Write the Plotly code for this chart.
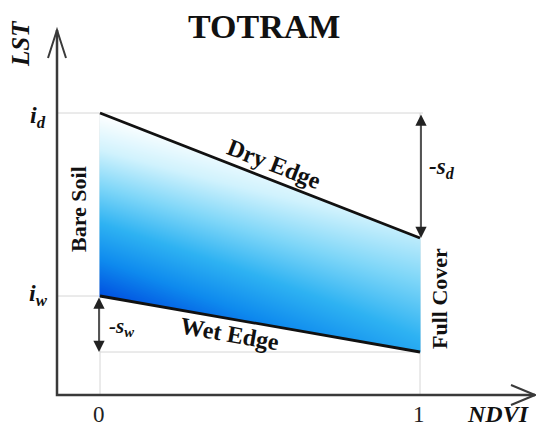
import math
import numpy as np
import plotly.graph_objects as go

# ---------------- data ----------------
ndvi = [0.0, 1.0]                 # NDVI at bare soil / full cover
dry_edge = [2.82, 1.57]           # LST on the dry edge
wet_edge = [0.99, 0.43]           # LST on the wet edge
x_ticks = [0, 1]
x_tick_labels = ["0", "1"]
edge_labels = ["Dry Edge", "Wet Edge"]

# ---------------- layout constants ----------------
W, H = 536, 430
PX_X = 320.0   # pixels per NDVI unit
PX_Y = 100.0   # pixels per LST unit
X0_PX, Y0_PX = 100.0, 395.0      # pixel position of (0, 0)
X_RANGE = [-X0_PX / PX_X, (W - X0_PX) / PX_X]
Y_RANGE = [(Y0_PX - H) / PX_Y, Y0_PX / PX_Y]
AX_X0 = (57 - X0_PX) / PX_X       # where the y axis stands
AX_XEND = (535 - X0_PX) / PX_X
AX_YEND = (Y0_PX - 30) / PX_Y

SERIF = "Liberation Serif"
AXIS_COL = "#3a3a3a"
GUIDE_COL = "#d6d6d6"


def dx(p):
    return p / PX_X


def dy(p):
    return p / PX_Y


def pap(xp, yp):
    return xp / W, 1 - yp / H


fig = go.Figure()

# ---------------- gradient fill between edges ----------------
xs = np.linspace(ndvi[0], ndvi[1], 321)
y_lo, y_hi = min(wet_edge), max(dry_edge)
ys = np.linspace(y_lo, y_hi, int(round((y_hi - y_lo) * PX_Y)) + 1)
X, Y = np.meshgrid(xs, ys)
dry = np.interp(X, ndvi, dry_edge)
wet = np.interp(X, ndvi, wet_edge)
u = (X - ndvi[0]) / (ndvi[1] - ndvi[0])
v = (dry - Y) / (dry - wet)
z = v * (1 - 0.6 * u) + 0.25 * u
z = np.where((Y <= dry) & (Y >= wet), z, np.nan)

fig.add_trace(go.Heatmap(
    x=xs, y=ys, z=z, zmin=0, zmax=1, showscale=False, hoverinfo="skip",
    colorscale=[[0.0, "#ffffff"], [0.2, "#d0f2fd"], [0.4, "#7ed6f8"],
                [0.6, "#2eb2f2"], [0.8, "#0e8aee"], [1.0, "#004fe0"]],
))

# ---------------- edges ----------------
for vals in (dry_edge, wet_edge):
    fig.add_trace(go.Scatter(x=ndvi, y=vals, mode="lines",
                             line=dict(color="#111111", width=2.8),
                             hoverinfo="skip", showlegend=False))

shapes = []
# guide lines
guides = [
    (AX_X0, dry_edge[0], ndvi[1] + dx(3), dry_edge[0]),
    (AX_X0, wet_edge[0], ndvi[0], wet_edge[0]),
    (ndvi[0], wet_edge[1], ndvi[1], wet_edge[1]),
    (ndvi[0], 0, ndvi[0], dry_edge[0]),
    (ndvi[1], 0, ndvi[1], dry_edge[0]),
]
for x0, y0, x1, y1 in guides:
    shapes.append(dict(type="line", xref="x", yref="y", x0=x0, y0=y0, x1=x1, y1=y1,
                       line=dict(color=GUIDE_COL, width=1), layer="below"))

# axes
shapes.append(dict(type="path", xref="x", yref="y",
                   path=f"M{AX_X0},{AX_YEND} L{AX_X0},0 L{AX_XEND},0",
                   line=dict(color=AXIS_COL, width=2.5)))
# open chevron arrow heads
shapes.append(dict(type="path", xref="x", yref="y",
                   path=(f"M{AX_X0 - dx(9)},{AX_YEND - dy(28)} L{AX_X0},{AX_YEND} "
                         f"L{AX_X0 + dx(9)},{AX_YEND - dy(28)}"),
                   line=dict(color=AXIS_COL, width=2)))
shapes.append(dict(type="path", xref="x", yref="y",
                   path=(f"M{AX_XEND - dx(24)},{dy(10)} L{AX_XEND},0 "
                         f"L{AX_XEND - dx(24)},{-dy(10)}"),
                   line=dict(color=AXIS_COL, width=2)))

annotations = []
# double arrows for slopes
for xa, ya0, ya1 in [(ndvi[1] + dx(1), dry_edge[0], dry_edge[1]),
                     (ndvi[0] - dx(1), wet_edge[0], wet_edge[1])]:
    annotations.append(dict(x=xa, y=ya1, ax=xa, ay=ya0, xref="x", yref="y",
                            axref="x", ayref="y", text="", showarrow=True,
                            arrowhead=2, startarrowhead=2, arrowside="end+start",
                            arrowwidth=1.5, arrowsize=1.5, startarrowsize=1.5,
                            arrowcolor="#222222", standoff=0, startstandoff=0))


def label(text, xp, yp, size, angle=0, color="#111111"):
    px_, py_ = pap(xp, yp)
    annotations.append(dict(x=px_, y=py_, xref="paper", yref="paper", text=text,
                            showarrow=False, textangle=angle, xanchor="center",
                            yanchor="middle",
                            font=dict(family=SERIF, size=size, color=color)))


def bi(s):
    return f"<b><i>{s}</i></b>"


label("<b>TOTRAM</b>", 264, 26, 34)
label(bi("LST"), 20, 44, 25, angle=-90)
label(bi("NDVI"), 498, 414, 24)
label(bi("i") + f"<sub>{bi('d')}</sub>", 38, 117, 24)
label(bi("i") + f"<sub>{bi('w')}</sub>", 38, 295, 24)
label(bi("-s") + f"<sub>{bi('d')}</sub>", 442, 168, 23)
label(bi("-s") + f"<sub>{bi('w')}</sub>", 121, 327, 21)
label("<b>Bare Soil</b>", 79, 209, 22, angle=-90)
label("<b>Full Cover</b>", 439, 299, 22, angle=-90)

dry_ang = math.degrees(math.atan((dry_edge[0] - dry_edge[1]) * PX_Y / PX_X))
wet_ang = math.degrees(math.atan((wet_edge[0] - wet_edge[1]) * PX_Y / PX_X))
label(f"<b>{edge_labels[0]}</b>", 274, 164, 24, angle=dry_ang)
label(f"<b>{edge_labels[1]}</b>", 230, 334, 24, angle=wet_ang)

for t, lab in zip(x_ticks, x_tick_labels):
    label(lab, X0_PX + t * PX_X - 1, 414, 23, color="#222222")

fig.update_layout(
    width=W, height=H, margin=dict(l=0, r=0, t=0, b=0),
    paper_bgcolor="white", plot_bgcolor="white", showlegend=False,
    xaxis=dict(range=X_RANGE, visible=False, fixedrange=True),
    yaxis=dict(range=Y_RANGE, visible=False, fixedrange=True),
    shapes=shapes, annotations=annotations,
)

fig.write_html("out.html")
